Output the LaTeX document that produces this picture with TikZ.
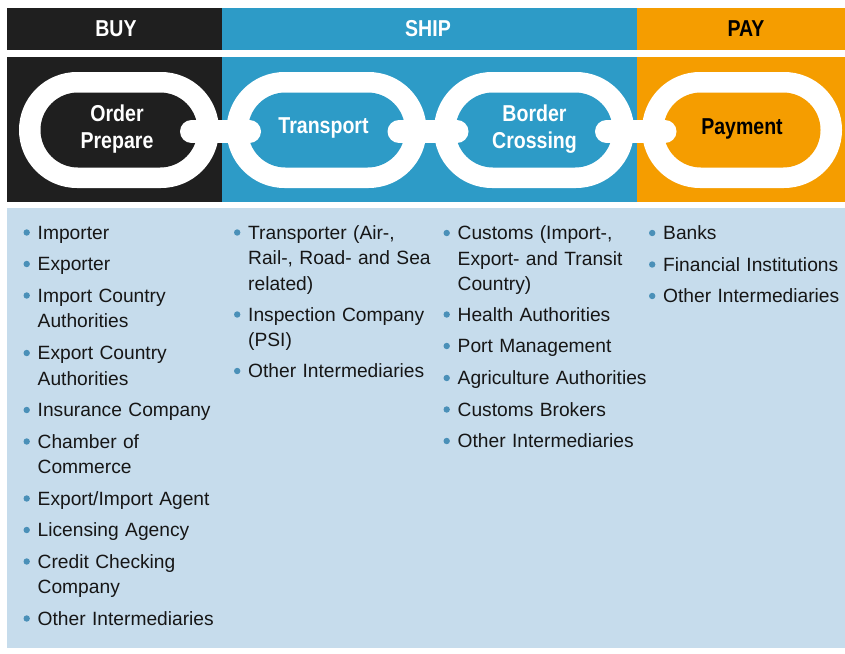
\documentclass[tikz,border=0pt]{standalone}
\usepackage{fontspec}
\setmainfont{Liberation Sans}
\usetikzlibrary{shapes.misc}
\definecolor{buyblack}{HTML}{1F1F1F}
\definecolor{shipblue}{HTML}{2D9BC7}
\definecolor{payorange}{HTML}{F59D00}
\definecolor{lightpanel}{HTML}{C6DCEC}
\definecolor{dotc}{HTML}{4A90B8}
\definecolor{textc}{HTML}{161616}
\newcommand\cnd[1]{\scalebox{0.85}[1]{#1}}
\newcommand\bitem[4]{\node[item] (#1) at (#2,#3) {#4};
  \fill[dotc] ([shift={(-10.8pt,6.5pt)}]#1.base west) circle[radius=3.2pt];}
\begin{document}
\begin{tikzpicture}[x=1pt,y=-1pt,
  hdrtext/.style={font=\fontsize{23}{27}\selectfont\bfseries, inner sep=0pt},
  outerlink/.style={rounded rectangle, fill=white, minimum width=200pt, minimum height=116pt, inner sep=0pt, outer sep=0pt},
  hole/.style={rounded rectangle, minimum width=157pt, minimum height=75pt, inner sep=0pt, outer sep=0pt},
  linktext/.style={font=\fontsize{23}{27}\selectfont\bfseries, align=center, inner sep=0pt},
  chainbar/.style={white, line width=23pt, line cap=round},
  item/.style={anchor=base west, text width=215pt, align=left, inner sep=0pt, font=\fontsize{19.2}{25.5}\selectfont, text=textc}]
\useasboundingbox (0,0) rectangle (845,653);
\fill[white] (0,0) rectangle (845,653);
% header bar
\fill[buyblack] (7,8) rectangle (222,50);
\fill[shipblue] (222,8) rectangle (637,50);
\fill[payorange] (637,8) rectangle (845,50);
\node[hdrtext, text=white] (hbuy) at (116,28.5) {\cnd{BUY}};
\node[hdrtext, text=white] (hship) at (428,28.5) {\cnd{SHIP}};
\node[hdrtext, text=black] (hpay) at (746,28.5) {\cnd{PAY}};
% chain panel
\fill[buyblack] (7,57) rectangle (222,202);
\fill[shipblue] (222,57) rectangle (637,202);
\fill[payorange] (637,57) rectangle (845,202);
% links
\node[outerlink] (L1) at (119,130) {};
\node[outerlink] (L2) at (326.5,130) {};
\node[outerlink] (L3) at (534,130) {};
\node[outerlink] (L4) at (742,130) {};
\node[hole, fill=buyblack] (h1) at (L1) {};
\node[hole, fill=shipblue] (h2) at (L2) {};
\node[hole, fill=shipblue] (h3) at (L3) {};
\node[hole, fill=payorange] (h4) at (L4) {};
\draw[chainbar] ([xshift=-6pt,yshift=-1.5pt]h1.east) -- ([xshift=1.5pt,yshift=-1.5pt]h2.west);
\draw[chainbar] ([xshift=-6pt,yshift=-1.5pt]h2.east) -- ([xshift=1.5pt,yshift=-1.5pt]h3.west);
\draw[chainbar] ([xshift=-6pt,yshift=-1.5pt]h3.east) -- ([xshift=1.5pt,yshift=-1.5pt]h4.west);
\node[linktext, text=white] (t1) at (117,129) {\cnd{Order}\\\cnd{Prepare}};
\node[linktext, text=white] (t2) at (323.5,127.5) {\cnd{Transport}};
\node[linktext, text=white] (t3) at (534.5,129) {\cnd{Border}\\\cnd{Crossing}};
\node[linktext, text=black] (t4) at (742,129) {\cnd{Payment}};
% list panel
\fill[lightpanel] (7,208) rectangle (845,648);
\bitem{a1}{37.5}{239}{Importer}
\bitem{a2}{37.5}{270.5}{Exporter}
\bitem{a3}{37.5}{302}{Import Country\\Authorities}
\bitem{a4}{37.5}{359.5}{Export Country\\Authorities}
\bitem{a5}{37.5}{416.5}{Insurance Company}
\bitem{a6}{37.5}{448}{Chamber of\\Commerce}
\bitem{a7}{37.5}{505}{Export/Import Agent}
\bitem{a8}{37.5}{536.5}{Licensing Agency}
\bitem{a9}{37.5}{568}{Credit Checking\\Company}
\bitem{a10}{37.5}{625}{Other Intermediaries}
\bitem{b1}{248}{239}{Transporter (Air-,\\Rail-, Road- and Sea\\related)}
\bitem{b2}{248}{321}{Inspection Company\\(PSI)}
\bitem{b3}{248}{377.5}{Other Intermediaries}
\bitem{c1}{457.5}{239.5}{Customs (Import-,\\Export- and Transit\\Country)}
\bitem{c2}{457.5}{321}{Health Authorities}
\bitem{c3}{457.5}{352.5}{Port Management}
\bitem{c4}{457.5}{384.5}{Agriculture Authorities}
\bitem{c5}{457.5}{416}{Customs Brokers}
\bitem{c6}{457.5}{447.5}{Other Intermediaries}
\bitem{d1}{663}{239.5}{Banks}
\bitem{d2}{663}{271}{Financial Institutions}
\bitem{d3}{663}{302.5}{Other Intermediaries}
\end{tikzpicture}
\end{document}
